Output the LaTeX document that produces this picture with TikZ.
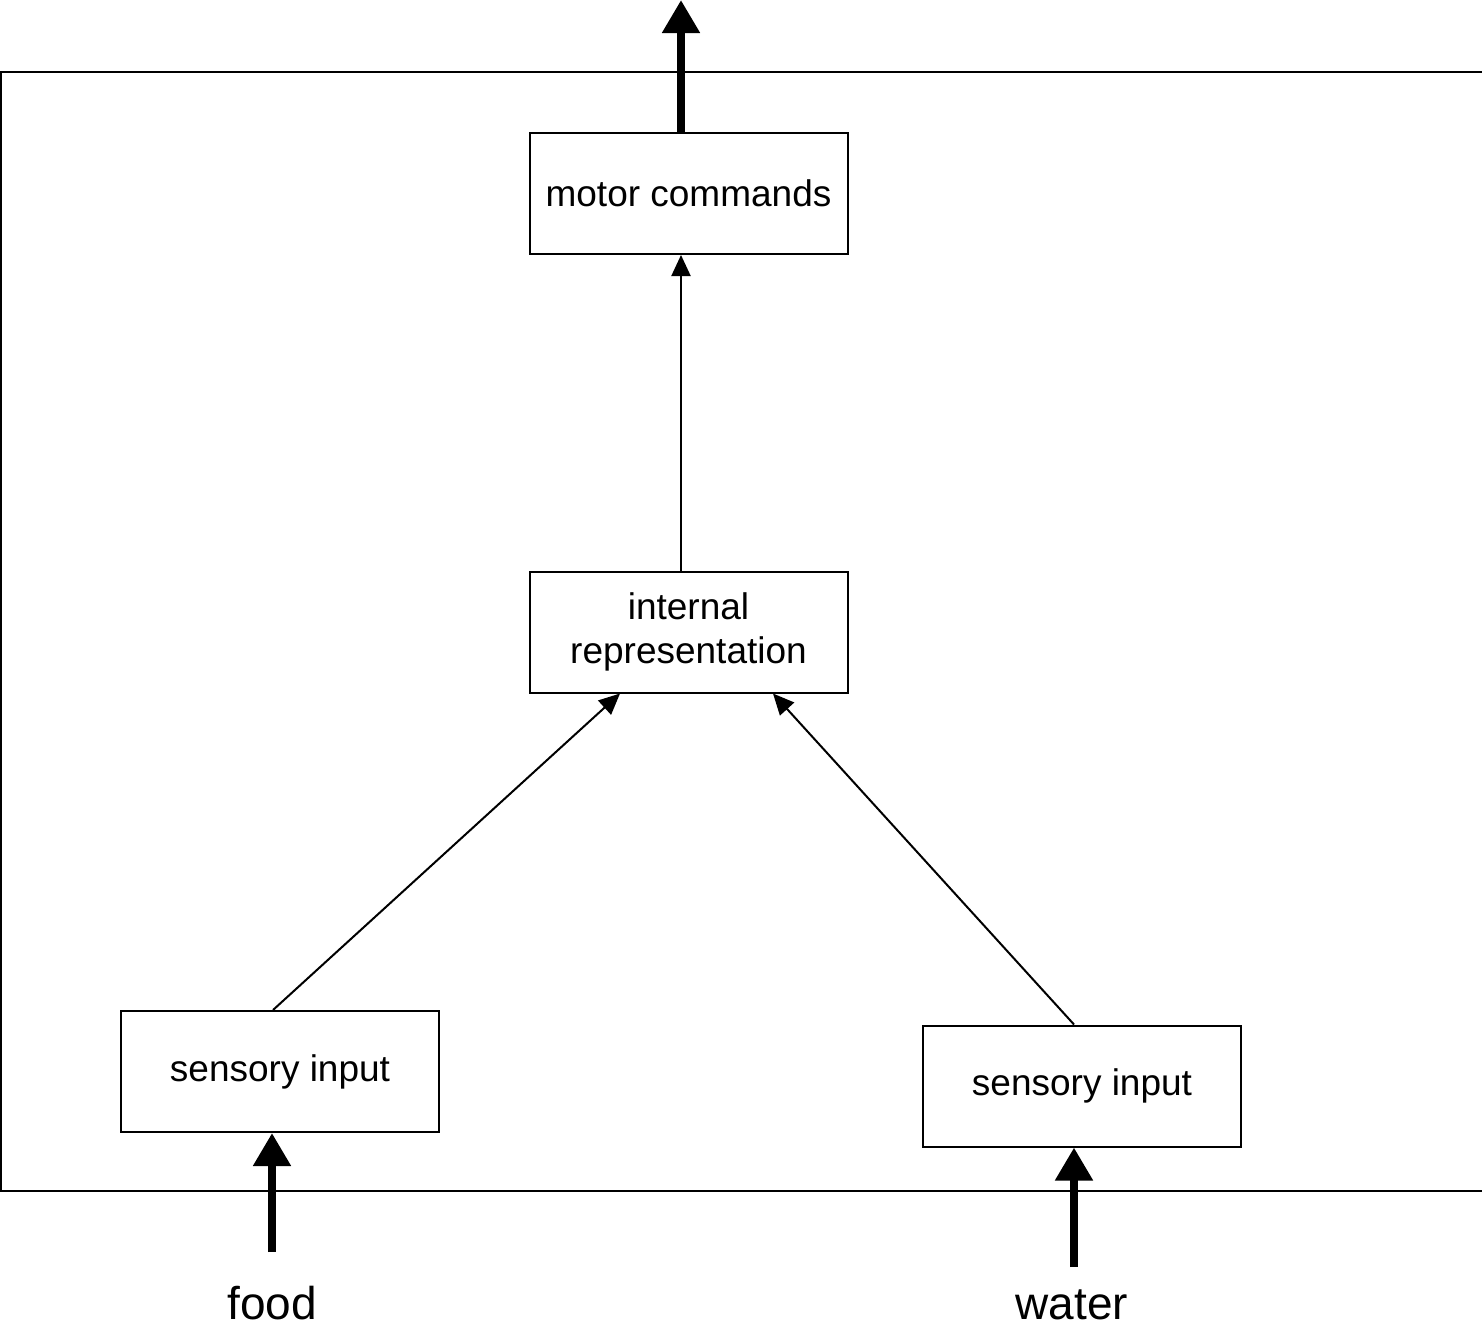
\documentclass[tikz,border=0pt]{standalone}
\usepackage{fontspec}
\setmainfont{Liberation Sans}
\usetikzlibrary{arrows.meta,calc}

\tikzset{
  block/.style={draw, line width=1pt, rectangle, inner sep=0pt,
    minimum width=159pt, minimum height=60.5pt, align=center,
    font=\fontsize{18.5}{22}\selectfont},
  thin link/.style={line width=1pt, -{Triangle[length=10.5pt,width=9.5pt]}},
  thick link/.style={line width=4pt, -{Triangle[length=16.5pt,width=18pt]}},
  stimulus/.style={anchor=base, inner sep=0pt, font=\fontsize{23}{27}\selectfont},
  frame/.style={line width=1pt}
}

\begin{document}
\begin{tikzpicture}[x=0.5pt, y=-0.5pt]
  \useasboundingbox (0,0) rectangle (1482,1329);
  \clip (0,0) rectangle (1482,1329);

  % organism boundary, open to the right
  \draw[frame] (1520,72) -- (1,72) -- (1,1191) -- (1520,1191);

  % processing stages
  \node[block] (motor) at (688.5,193.5) {motor commands};
  \node[block] (internal) at (688.5,632) {internal\\representation};
  \node[block] (lsense) at (280,1071.5) {sensory input};
  \node[block] (rsense) at (1082,1086) {sensory input};

  % free ends of the thick arrows
  \coordinate (out) at (681,0);
  \coordinate (foodin) at (272,1252);
  \coordinate (waterin) at (1074,1267);

  % internal connections
  \draw[thin link] ($(internal.north)+(-7.5,0)$) -- ($(motor.south)+(-7.5,0)$);
  \draw[thin link] ($(lsense.north)+(-7,0)$) -- ($(internal.south)+(-68.5,0)$);
  \draw[thin link] ($(rsense.north)+(-8,0)$) -- ($(internal.south)+(84.5,0)$);

  % inputs and output
  \draw[thick link] ($(motor.north)+(-7.5,0)$) -- (out);
  \draw[thick link] (foodin) -- ($(lsense.south)+(-8,0)$);
  \draw[thick link] (waterin) -- ($(rsense.south)+(-8,0)$);

  % stimulus labels
  \node[stimulus] (food) at (272,1319) {food};
  \node[stimulus] (water) at (1072,1319) {water};
\end{tikzpicture}
\end{document}
